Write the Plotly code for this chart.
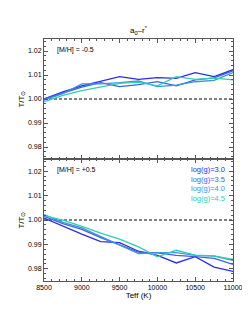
import plotly.graph_objects as go
from plotly.subplots import make_subplots

teff = [8500, 8750, 9000, 9250, 9500, 9750, 10000, 10250, 10500, 10750, 11000]
logg_labels = ["log(g)=3.0", "log(g)=3.5", "log(g)=4.0", "log(g)=4.5"]
colors = ["#2b2bf0", "#3a62e6", "#3f93da", "#2fcfae"]

# [M/H] = -0.5
low_30 = [1.0000, 1.0030, 1.0055, 1.0075, 1.0093, 1.0082, 1.0089, 1.0086, 1.0110, 1.0093, 1.0122]
low_35 = [1.0000, 1.0025, 1.0050, 1.0068, 1.0052, 1.0060, 1.0072, 1.0055, 1.0080, 1.0088, 1.0117]
low_40 = [0.9995, 1.0022, 1.0063, 1.0063, 1.0068, 1.0075, 1.0052, 1.0058, 1.0072, 1.0078, 1.0110]
low_45 = [0.9988, 1.0015, 1.0035, 1.0050, 1.0065, 1.0070, 1.0055, 1.0093, 1.0082, 1.0087, 1.0080]

# [M/H] = +0.5
high_30 = [1.0008, 0.9974, 0.9942, 0.9911, 0.9907, 0.9872, 0.9855, 0.9824, 0.9850, 0.9807, 0.9789]
high_35 = [1.0015, 0.9985, 0.9962, 0.9928, 0.9898, 0.9868, 0.9865, 0.9855, 0.9850, 0.9843, 0.9818]
high_40 = [1.0022, 0.9990, 0.9968, 0.9932, 0.9895, 0.9862, 0.9866, 0.9866, 0.9855, 0.9852, 0.9835]
high_45 = [1.0018, 1.0000, 0.9974, 0.9946, 0.9922, 0.9890, 0.9849, 0.9876, 0.9856, 0.9853, 0.9839]

low = [low_30, low_35, low_40, low_45]
high = [high_30, high_35, high_40, high_45]

FONT = "Liberation Sans"
AX = "#555555"

fig = make_subplots(rows=2, cols=1, shared_xaxes=True, vertical_spacing=0)

for row, data in ((1, low), (2, high)):
    fig.add_trace(go.Scatter(x=[teff[0], teff[-1]], y=[1.0, 1.0], mode="lines",
                             line=dict(color="black", width=1, dash="3px,2px"),
                             showlegend=False, hoverinfo="skip"), row=row, col=1)
    for i, ys in enumerate(data):
        fig.add_trace(go.Scatter(x=teff, y=ys, mode="lines",
                                 line=dict(color=colors[i], width=1.3),
                                 name=logg_labels[i], showlegend=False),
                      row=row, col=1)

axis_common = dict(showline=True, linecolor=AX, linewidth=1, mirror="allticks",
                   ticks="inside", ticklen=4, tickcolor=AX, showgrid=False,
                   zeroline=False, tickfont=dict(family=FONT, size=7, color="black"))

for r in (1, 2):
    fig.update_xaxes(range=[8500, 11000], dtick=500, tick0=8500, tickformat="d",
                     minor=dict(ticks="inside", ticklen=2, dtick=100, tickcolor=AX),
                     showticklabels=(r == 2), row=r, col=1, **axis_common)
    fig.update_yaxes(range=[0.975, 1.025], dtick=0.01, tick0=0.98, tickformat=".2f",
                     minor=dict(ticks="inside", ticklen=2, dtick=0.002, tickcolor=AX),
                     title=dict(text="T/T<sub>⊙</sub>", font=dict(family=FONT, size=8, color="black"),
                                standoff=2),
                     row=r, col=1, **axis_common)

fig.update_xaxes(title=dict(text="Teff (K)", font=dict(family=FONT, size=8, color="black"),
                            standoff=1), row=2, col=1)
fig.update_yaxes(domain=[0.504, 1.0], row=1, col=1)
fig.update_yaxes(domain=[0.0, 0.504], row=2, col=1)

annotations = [
    dict(text="a<sub>0</sub>–r<sup>*</sup>", x=0.5, y=1.0, xref="paper", yref="paper",
         xanchor="center", yanchor="bottom", yshift=1, showarrow=False,
         font=dict(family=FONT, size=8, color="black")),
    dict(text="[M/H] = -0.5", x=8650, y=1.0205, xref="x", yref="y",
         xanchor="left", yanchor="middle", showarrow=False,
         font=dict(family=FONT, size=7, color="black")),
    dict(text="[M/H] = +0.5", x=8650, y=1.0205, xref="x2", yref="y2",
         xanchor="left", yanchor="middle", showarrow=False,
         font=dict(family=FONT, size=7, color="black")),
]
leg_y = [1.0206, 1.0167, 1.0128, 1.0087]
for i, lab in enumerate(logg_labels):
    annotations.append(dict(text=lab, x=10920, y=leg_y[i], xref="x2", yref="y2",
                            xanchor="right", yanchor="middle", showarrow=False,
                            font=dict(family=FONT, size=7.5, color=colors[i])))

fig.update_layout(width=250, height=312, margin=dict(l=32, r=25, t=31, b=39),
                  plot_bgcolor="white", paper_bgcolor="white",
                  annotations=annotations, showlegend=False,
                  font=dict(family=FONT, color="black"))

fig.write_html("out.html")
